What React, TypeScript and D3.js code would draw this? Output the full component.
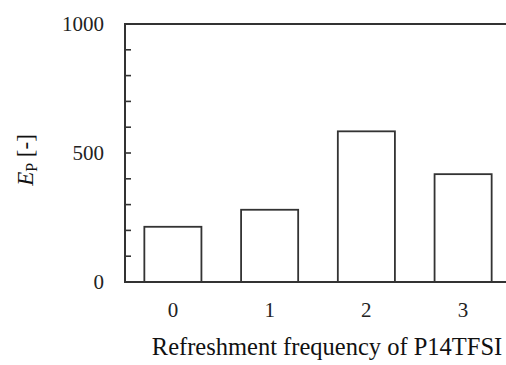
import { useEffect, useRef } from 'react'
import * as d3 from 'd3'

const categories = ['0', '1', '2', '3']
const values = [214, 280, 584, 418]
const yTickLabels = [0, 500, 1000]
const yMinorTicks = d3.range(0, 1001, 100)

const W = 506
const H = 365

const App = () => {
    const ref = useRef<SVGSVGElement>(null)

    useEffect(() => {
        const svg = d3.select(ref.current)
        svg.selectAll('*').remove()

        // Scales
        const x = d3.scaleBand().domain(categories).range([125, 511]).paddingInner(0.41).paddingOuter(0.2)
        const y = d3.scaleLinear().domain([0, 1000]).range([282, 24])

        const ink = '#333'
        const font = '"Liberation Serif", "Times New Roman", serif'

        // Bars
        svg.append('g')
            .selectAll('rect')
            .data(values)
            .join('rect')
            .attr('x', (_, i) => x(categories[i]))
            .attr('y', d => y(d))
            .attr('width', x.bandwidth())
            .attr('height', d => y(0) - y(d))
            .attr('fill', 'white')
            .attr('stroke', ink)
            .attr('stroke-width', 1.8)

        // Frame: left, top, bottom
        const frame = svg.append('g').attr('stroke', ink).attr('stroke-width', 2).attr('fill', 'none')
        frame.append('line').attr('x1', 125).attr('x2', 125).attr('y1', y(1000)).attr('y2', y(0))
        frame.append('line').attr('x1', 124).attr('x2', W).attr('y1', y(1000)).attr('y2', y(1000))
        frame.append('line').attr('x1', 124).attr('x2', W).attr('y1', y(0)).attr('y2', y(0))

        // Inward minor ticks
        frame.selectAll('line.tick')
            .data(yMinorTicks)
            .join('line')
            .attr('class', 'tick')
            .attr('x1', 125)
            .attr('x2', 131)
            .attr('y1', d => y(d))
            .attr('y2', d => y(d))
            .attr('stroke-width', 1.6)

        // Y tick labels
        svg.append('g')
            .selectAll('text')
            .data(yTickLabels)
            .join('text')
            .attr('x', 104)
            .attr('y', d => y(d))
            .attr('dy', '0.33em')
            .attr('text-anchor', 'end')
            .attr('font-family', font)
            .attr('font-size', 21)
            .attr('fill', '#222')
            .text(d => d)

        // X tick labels
        svg.append('g')
            .selectAll('text')
            .data(categories)
            .join('text')
            .attr('x', d => x(d) + x.bandwidth() / 2)
            .attr('y', 310)
            .attr('dy', '0.35em')
            .attr('text-anchor', 'middle')
            .attr('font-family', font)
            .attr('font-size', 21)
            .attr('fill', '#222')
            .text(d => d)

        // X title
        svg.append('text')
            .attr('x', 327)
            .attr('y', 346)
            .attr('dy', '0.35em')
            .attr('text-anchor', 'middle')
            .attr('font-family', font)
            .attr('font-size', 24.5)
            .attr('fill', '#111')
            .text('Refreshment frequency of P14TFSI')

        // Y title
        const yt = svg.append('text')
            .attr('transform', 'translate(25,160) rotate(-90)')
            .attr('text-anchor', 'middle')
            .attr('dy', '0.35em')
            .attr('font-family', font)
            .attr('font-size', 23)
            .attr('fill', '#111')
        yt.append('tspan').attr('font-style', 'italic').text('E')
        yt.append('tspan').attr('font-size', 16).attr('dy', '0.22em').text('P')
        yt.append('tspan').attr('dy', '-0.15em').text(' [-]')
    }, [])

    return (
        <svg
            ref={ref}
            width={W}
            height={H}
            style={{ position: 'absolute', left: 0, top: 0, background: 'white' }}
        />
    )
}

export default App
